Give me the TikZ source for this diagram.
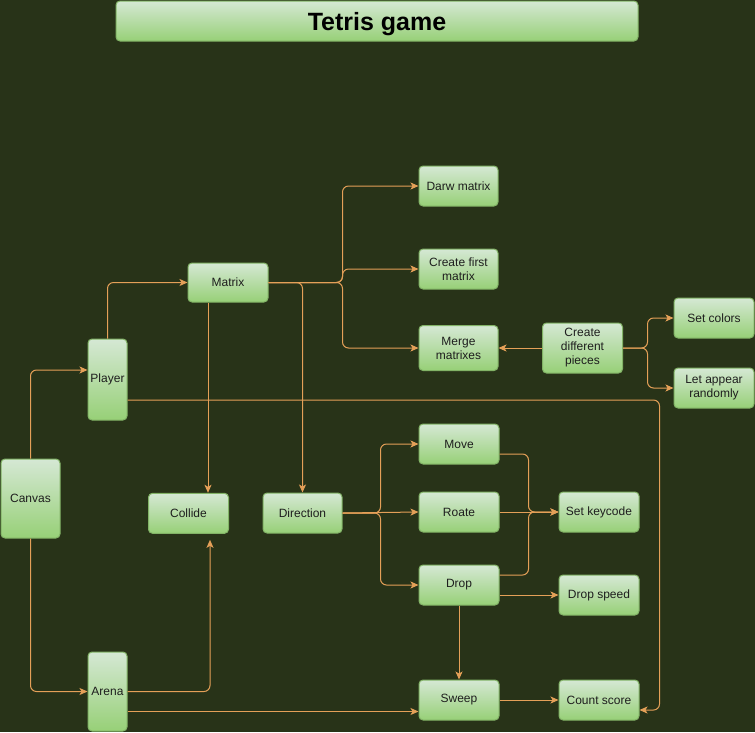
\documentclass[tikz,border=0pt]{standalone}
\usepackage{fontspec}
\setmainfont{Liberation Sans}
\usetikzlibrary{arrows.meta}

\definecolor{bgmoss}{RGB}{40,51,24}
\definecolor{boxtop}{RGB}{213,232,212}
\definecolor{boxbot}{RGB}{151,208,119}
\definecolor{boxline}{RGB}{130,179,102}
\definecolor{linkorange}{RGB}{228,160,88}
\definecolor{labelgray}{RGB}{30,30,30}

\tikzset{
    box/.style={draw=boxline,line width=1pt,top color=boxtop,bottom color=boxbot,rounded corners=4pt,
        minimum width=80pt,minimum height=40pt,inner sep=2pt,align=center,text=labelgray,
        font=\fontsize{12}{14}\selectfont},
    link/.style={draw=linkorange,line width=1pt,rounded corners=6pt,-{Stealth[length=8pt,width=7pt,inset=2pt]}}
}

\begin{document}
\begin{tikzpicture}[x=1pt,y=-1pt]
    	\fill[bgmoss] (0,0) rectangle (755,732);
    	\useasboundingbox (0,0) rectangle (755,732);

    	\node[box,minimum width=522pt,text depth=0pt,font=\bfseries\fontsize{25}{28}\selectfont,text=black] (title) at (377,21) {Tetris game};

    	\node[box,minimum width=59pt,minimum height=79pt] (canvas) at (30.5,498.5) {Canvas};
    	\node[box,minimum width=39pt,minimum height=81pt] (player) at (107.5,379.5) {Player};
    	\node[box,minimum width=39pt,minimum height=79pt] (arena) at (107.5,691.5) {Arena};
    	\node[box,minimum height=39pt] (matrix) at (228,282.5) {Matrix};
    	\node[box] (collide) at (188.5,513.3) {Collide};
    	\node[box,minimum width=79pt] (direction) at (302.5,513) {Direction};

    	\node[box,minimum width=79pt] (darw) at (458.5,186) {Darw matrix};
    	\node[box,minimum width=79pt] (firstmatrix) at (458.5,269) {Create first\\matrix};
    	\node[box,minimum width=79pt,minimum height=45pt] (merge) at (458.5,348) {Merge\\matrixes};
    	\node[box,minimum height=50pt] (pieces) at (582.5,348) {Create\\different\\pieces};
    	\node[box] (colors) at (714,318) {Set colors};
    	\node[box] (randomly) at (714,388) {Let appear\\randomly};

    	\node[box] (move) at (459,444) {Move};
    	\node[box] (roate) at (459,512) {Roate};
    	\node[box] (drop) at (459,585) {Drop};
    	\node[box] (keycode) at (599,512) {Set keycode};
    	\node[box] (dropspeed) at (599,595) {Drop speed};
    	\node[box] (sweep) at (459,700) {Sweep};
    	\node[box] (score) at (599,700) {Count score};

    	\draw[link] (canvas.north) |- ([yshift=9.5pt]player.west);
    	\draw[link] (canvas.south) |- (arena.west);
    	\draw[link] (player.north) |- (matrix.west);
    	\draw[link] ([yshift=-20.5pt]player.east) -| ([xshift=20pt,yshift=-10pt]score.east) -- ([yshift=-10pt]score.east);

    	\draw[link] ([xshift=-20pt]matrix.south) -- ([xshift=-20pt]matrix.south |- collide.north);
    	\draw[link] (matrix.east) -| (direction.north);
    	\draw[link] (matrix.east) -- ([xshift=-76pt]darw.west |- matrix.east) |- (darw.west);
    	\draw[link] (matrix.east) -- ([xshift=-76pt]firstmatrix.west |- matrix.east) |- (firstmatrix.west);
    	\draw[link] (matrix.east) -- ([xshift=-76pt]merge.west |- matrix.east) |- (merge.west);

    	\draw[link] (pieces.west) -- (merge.east);
    	\draw[link] (pieces.east) -- ([xshift=-26pt]colors.west |- pieces.east) |- (colors.west);
    	\draw[link] (pieces.east) -- ([xshift=-26pt]randomly.west |- pieces.east) |- (randomly.west);

    	\draw[link] (direction.east) -- ([xshift=-38pt]move.west |- direction.east) |- (move.west);
    	\draw[link] (direction.east) -- (roate.west);
    	\draw[link] (direction.east) -- ([xshift=-38pt]drop.west |- direction.east) |- (drop.west);

    	\draw[link] ([yshift=-10pt]move.east) -| ([xshift=-30pt]keycode.west) -- (keycode.west);
    	\draw[link] (roate.east) -- (keycode.west);
    	\draw[link] ([yshift=10pt]drop.east) -| ([xshift=-30pt]keycode.west) -- (keycode.west);
    	\draw[link] ([yshift=-10pt]drop.east) -- (dropspeed.west);
    	\draw[link] (drop.south) -- (sweep.north);

    	\draw[link] (arena.east) -| ([xshift=21.5pt,yshift=-6pt]collide.south);
    	\draw[link] ([yshift=-20pt]arena.east) -- ([yshift=-20pt]arena.east -| sweep.west);
    	\draw[link] (sweep.east) -- (score.west);
    	\end{tikzpicture}
\end{document}
